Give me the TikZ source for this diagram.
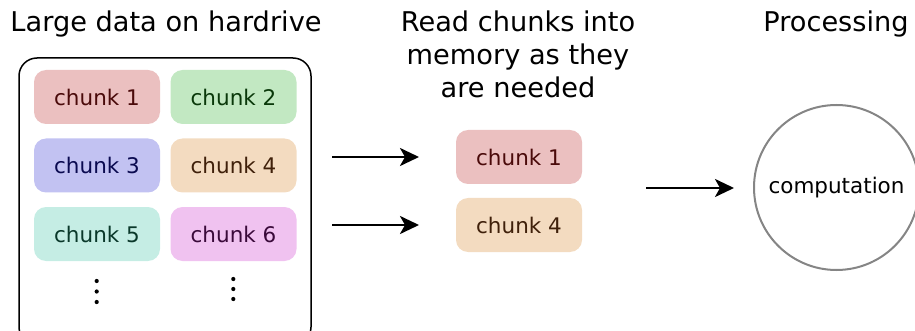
\documentclass[tikz,border=0pt]{standalone}
\usepackage{fontspec}
\setmainfont{DejaVu Sans}
\usetikzlibrary{arrows.meta}

\definecolor{redfill}{HTML}{EBC0C0}\definecolor{redtext}{HTML}{4A0A0A}
\definecolor{greenfill}{HTML}{C2E8C2}\definecolor{greentext}{HTML}{0A380A}
\definecolor{bluefill}{HTML}{C2C2F2}\definecolor{bluetext}{HTML}{0A0A50}
\definecolor{orangefill}{HTML}{F3DBC0}\definecolor{orangetext}{HTML}{3F200A}
\definecolor{tealfill}{HTML}{C5EDE4}\definecolor{tealtext}{HTML}{0A382A}
\definecolor{pinkfill}{HTML}{F0C2F0}\definecolor{pinktext}{HTML}{3A0A3A}
\definecolor{ringgray}{HTML}{858585}

\tikzset{
  chunkbox/.style n args={2}{rectangle, rounded corners=12pt, fill=#1, text=#2,
    minimum width=126pt, minimum height=54pt, inner sep=0pt,
    font=\fontsize{21.5}{26}\selectfont},
  heading/.style={anchor=base, align=center, font=\fontsize{27.2}{33}\selectfont},
  flow/.style={line width=2.6pt, -{Stealth[length=19pt,width=18pt,inset=5pt]}},
  ellipsisdot/.style={circle, fill=black, inner sep=0pt, minimum size=4.2pt}
}

\begin{document}
\begin{tikzpicture}[x=1pt,y=-1pt]
  \useasboundingbox (0,0) rectangle (915,331);
  \clip (0,0) rectangle (915,331);

  % headings
  \node[heading] (h1) at (166,32) {Large data on hardrive};
  \node[heading] (h2) at (518,32) {Read chunks into};
  \node[heading] (h2b) at (518,65) {memory as they};
  \node[heading] (h2c) at (518,98) {are needed};
  \node[heading] (h3) at (836,32) {Processing};

  % storage container
  \draw[line width=1.5pt, rounded corners=18pt] (19,58) rectangle (311,345);

  \node[chunkbox={redfill}{redtext}] (c1) at (97,97) {chunk 1};
  \node[chunkbox={greenfill}{greentext}] (c2) at (233.5,97) {chunk 2};
  \node[chunkbox={bluefill}{bluetext}] (c3) at (97,165.5) {chunk 3};
  \node[chunkbox={orangefill}{orangetext}] (c4) at (233.5,165.5) {chunk 4};
  \node[chunkbox={tealfill}{tealtext}] (c5) at (97,234) {chunk 5};
  \node[chunkbox={pinkfill}{pinktext}] (c6) at (233.5,234) {chunk 6};

  % vertical ellipses under each column
  \foreach \y [count=\i] in {281,291.5,302}
    \node[ellipsisdot] (dl\i) at (96.7,\y) {};
  \foreach \y [count=\i] in {279,289,299}
    \node[ellipsisdot] (dr\i) at (233.3,\y) {};

  % chunks in memory
  \node[chunkbox={redfill}{redtext}] (m1) at (519,157) {chunk 1};
  \node[chunkbox={orangefill}{orangetext}] (m4) at (519,225) {chunk 4};

  % processing
  \node[circle, draw=ringgray, line width=2pt, minimum size=165pt, inner sep=0pt,
        font=\fontsize{21.5}{26}\selectfont] (comp) at (836.5,187.5) {computation};

  % arrows
  \coordinate (a1s) at (332,157); \coordinate (a1e) at (419,157);
  \coordinate (a2s) at (332,225); \coordinate (a2e) at (419,225);
  \coordinate (a3s) at (646,188); \coordinate (a3e) at (734,188);
  \draw[flow] (a1s) -- (a1e);
  \draw[flow] (a2s) -- (a2e);
  \draw[flow] (a3s) -- (a3e);
\end{tikzpicture}
\end{document}
